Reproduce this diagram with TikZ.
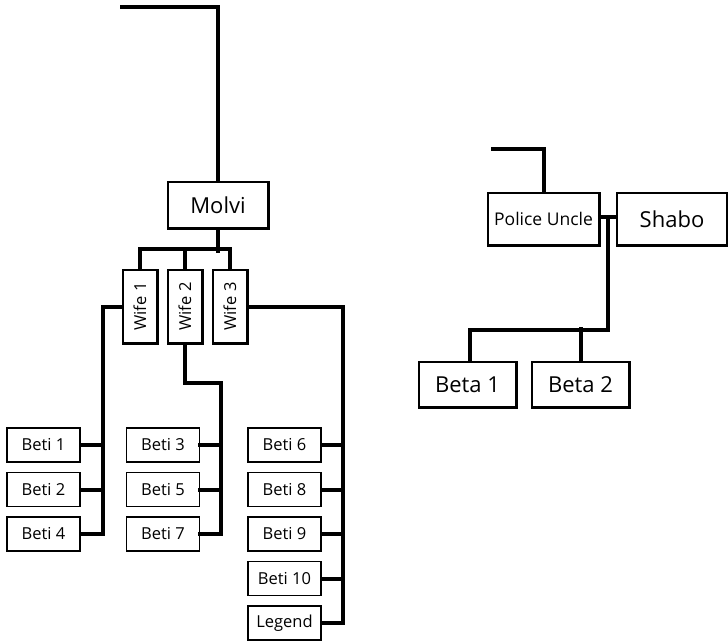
\documentclass[tikz,border=0pt]{standalone}
\usepackage{fontspec}
\setmainfont{Open Sans}
\usetikzlibrary{positioning}
\begin{document}
\begin{tikzpicture}[
  x=1pt,y=-1pt,
  box/.style={draw,line width=1.5pt,fill=white,inner sep=0pt,align=center},
  small/.style={box,font=\fontsize{16.5}{18}\selectfont},
  big/.style={box,font=\fontsize{22}{24}\selectfont},
  beti/.style={small,minimum width=73pt,minimum height=34pt},
  wife/.style={small,minimum width=34pt,minimum height=73pt},
  beta/.style={big,minimum width=97pt,minimum height=45pt},
  link/.style={line width=4pt,line cap=rect}]

\useasboundingbox (0,0) rectangle (728,641);

% Molvi and wives.
\coordinate (molviup) at (122,7);
\node[big,minimum width=100pt,minimum height=46pt] (molvi) at (218,205) {Molvi};
\node[wife] (wife1) at (140,306.5) {\rotatebox{90}{Wife 1}};
\node[wife] (wife2) at (185,306.5) {\rotatebox{90}{Wife 2}};
\node[wife] (wife3) at (230,306.5) {\rotatebox{90}{Wife 3}};

% Daughters, one column per wife.
\node[beti] (beti1) at (43.5,445) {Beti 1};
\node[beti] (beti2) at (43.5,489.5) {Beti 2};
\node[beti] (beti4) at (43.5,534) {Beti 4};
\node[beti] (beti3) at (163,445) {Beti 3};
\node[beti] (beti5) at (163,489.5) {Beti 5};
\node[beti] (beti7) at (163,534) {Beti 7};
\node[beti] (beti6) at (284.5,445) {Beti 6};
\node[beti] (beti8) at (284.5,489.5) {Beti 8};
\node[beti] (beti9) at (284.5,534) {Beti 9};
\node[beti] (beti10) at (284.5,578.5) {Beti 10};
\node[beti] (legend) at (284.5,623) {Legend};

% Police uncle side.
\coordinate (policeup) at (493,149);
\node[small,font=\fontsize{17.5}{19}\selectfont,minimum width=111pt,minimum height=52pt] (police) at (543.5,219) {Police Uncle};
\node[big,minimum width=110pt,minimum height=52pt] (shabo) at (672,219) {Shabo};
\node[beta] (beta1) at (467.5,384.5) {Beta 1};
\node[beta] (beta2) at (580.5,384.5) {Beta 2};

% Connectors.
\draw[link] (molviup) -| (molvi.north);
\draw[link] (molvi.south) -- ++(0,22);
\draw[link] (wife1.north) -- ++(0,-20) -| (wife3.north);
\draw[link] (wife2.north) -- ++(0,-20);

\draw[link] (wife1.west) -| ([xshift=22pt]beti4.east) -- (beti4.east);
\draw[link] (beti1.east) -- ++(22,0);
\draw[link] (beti2.east) -- ++(22,0);

\draw[link] (wife2.south) -- ++(0,39) -| ([xshift=21pt]beti7.east) -- (beti7.east);
\draw[link] (beti3.east) -- ++(21,0);
\draw[link] (beti5.east) -- ++(21,0);

\draw[link] (wife3.east) -| ([xshift=21pt]legend.east) -- (legend.east);
\foreach \b in {beti6,beti8,beti9,beti10}
  \draw[link] (\b.east) -- ++(21,0);

\draw[link] (policeup) -| (police.north);
\draw[link] ([yshift=2pt]police.east) -- ([yshift=2pt]shabo.west) coordinate[pos=0.5] (marriage);
\draw[link] (marriage) -- ++(0,113) -| ([xshift=2.5pt]beta1.north);
\draw[link] (beta2.north) -- ++(0,-32);

% Boxes again on top of the line ends.
\foreach \n in {molvi,wife1,wife2,wife3,police,shabo,beta1,beta2}
  \draw[line width=1.5pt] (\n.north west) rectangle (\n.south east);
\end{tikzpicture}
\end{document}
